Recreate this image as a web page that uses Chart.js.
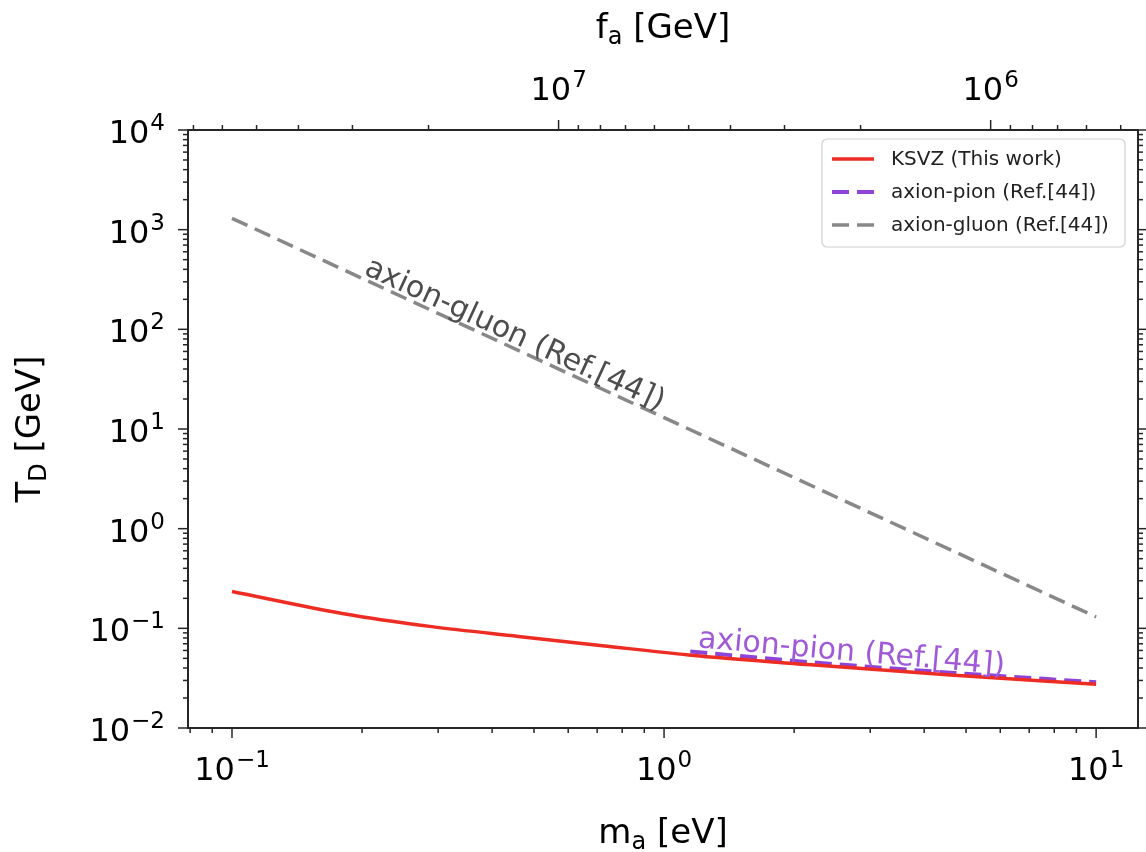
<!DOCTYPE html>
<html><head><meta charset="utf-8">
<script src="https://cdn.jsdelivr.net/npm/chart.js@4.4.1/dist/chart.umd.min.js"></script>
<style>html,body{margin:0;padding:0;background:#fff;}#wrap{width:1146px;height:852px;}</style>
</head><body><div id="wrap"><canvas id="c" width="1146" height="852"></canvas></div>
<script>
// ---------------- data ----------------
const ksvzMass  = [0.1, 0.18, 0.29, 0.46, 0.72, 1.14, 2.19, 4.6, 10];
const ksvzTD    = [0.234, 0.141, 0.104, 0.083, 0.067, 0.054, 0.043, 0.034, 0.0275];
const pionMass  = [1.15, 2.19, 4.6, 10];
const pionTD    = [0.0585, 0.0457, 0.0359, 0.0288];
const gluonMass = [0.1, 1, 10];
const gluonTD   = [1300, 13, 0.13];
const seriesLabels = ['KSVZ (This work)', 'axion-pion (Ref.[44])', 'axion-gluon (Ref.[44])'];
const massTickExps = [-1, 0, 1];          // bottom axis labels 10^n  (m_a [eV])
const faTickExps   = [7, 6];              // top axis labels 10^n     (f_a [GeV])
const tdTickExps   = [-2, -1, 0, 1, 2, 3, 4]; // left axis labels 10^n (T_D [GeV])
const FA_CONST = 5.7e6;                   // f_a[GeV] = 5.7e6 / m_a[eV]
const X_MIN = 0.0791, X_MAX = 12.5, Y_MIN = 1e-2, Y_MAX = 1e4;

// ---------------- styles ----------------
const FONT = '"DejaVu Sans", sans-serif';
const RED = 'rgb(237,45,36)', PURPLE = '#8e44d8', GRAY = '#888888';
const AXIS = '#262626';
const DASH = [17, 8];

const pts = (xs, ys) => xs.map((x, i) => ({x, y: ys[i]}));

const decor = {
  id: 'decor',
  afterDatasetsDraw(chart) {
    const ctx = chart.ctx;
    const ann = [
      {ds: 2, text: seriesLabels[2], px: 361, off: 4.5, color: '#4d4d4d'},
      {ds: 1, text: seriesLabels[1], px: 697, off: 5, color: '#a05ad8'}
    ];
    ann.forEach(a => {
      const el = chart.getDatasetMeta(a.ds).data;
      for (let i = 0; i < el.length - 1; i++) {
        const p = el[i], q = el[i + 1];
        if (a.px >= p.x && a.px <= q.x) {
          const y = p.y + (q.y - p.y) * (a.px - p.x) / (q.x - p.x);
          const ang = Math.atan2(q.y - p.y, q.x - p.x);
          ctx.save();
          ctx.translate(a.px, y);
          ctx.rotate(ang);
          ctx.font = '30px ' + FONT;
          ctx.fillStyle = a.color;
          ctx.textBaseline = 'alphabetic';
          ctx.textAlign = 'left';
          ctx.fillText(a.text, 0, -a.off);
          ctx.restore();
          break;
        }
      }
    });
  },
  afterDraw(chart) {
    const ctx = chart.ctx;
    const ca = chart.chartArea;
    const sx = chart.scales.x, sxt = chart.scales.xTop, sy = chart.scales.y;
    ctx.save();
    // frame
    ctx.strokeStyle = AXIS;
    ctx.lineWidth = 2;
    ctx.strokeRect(ca.left, ca.top, ca.right - ca.left, ca.bottom - ca.top);
    // ticks
    ctx.lineWidth = 1.5;
    const MAJ = 10, MIN = 5;
    function logVals(lo, hi) {
      const out = [];
      for (let e = Math.floor(Math.log10(lo)) - 1; e <= Math.ceil(Math.log10(hi)); e++) {
        for (let k = 1; k <= 9; k++) {
          const v = k * Math.pow(10, e);
          if (v >= lo * 0.9999 && v <= hi * 1.0001) out.push({v, major: k === 1});
        }
      }
      return out;
    }
    function line(x1, y1, x2, y2) { ctx.beginPath(); ctx.moveTo(x1, y1); ctx.lineTo(x2, y2); ctx.stroke(); }
    logVals(X_MIN, X_MAX).forEach(t => {
      const x = sx.getPixelForValue(t.v);
      line(x, ca.bottom, x, ca.bottom + (t.major ? MAJ : MIN));
    });
    logVals(FA_CONST / X_MAX, FA_CONST / X_MIN).forEach(t => {
      const x = sxt.getPixelForValue(t.v);
      line(x, ca.top, x, ca.top - (t.major ? MAJ : MIN));
    });
    logVals(Y_MIN, Y_MAX).forEach(t => {
      const y = sy.getPixelForValue(t.v);
      const L = t.major ? MAJ : MIN;
      line(ca.left, y, ca.left - L, y);
      line(ca.right, y, ca.right + L, y);
    });
    // tick labels 10^n
    function pow10(exp, x, y, align) {
      const es = exp < 0 ? '\u2212' + Math.abs(exp) : String(exp);
      ctx.font = '32px ' + FONT;
      const w1 = ctx.measureText('10').width;
      ctx.font = '23px ' + FONT;
      const w2 = ctx.measureText(es).width;
      const tot = w1 + 1 + w2;
      const left = align === 'right' ? x - tot : x - tot / 2;
      ctx.fillStyle = '#000';
      ctx.textAlign = 'left';
      ctx.textBaseline = 'alphabetic';
      ctx.font = '32px ' + FONT;
      ctx.fillText('10', left, y);
      ctx.font = '23px ' + FONT;
      ctx.fillText(es, left + w1 + 1, y - 13);
    }
    massTickExps.forEach(e => pow10(e, sx.getPixelForValue(Math.pow(10, e)), 780, 'center'));
    faTickExps.forEach(e => pow10(e, sxt.getPixelForValue(Math.pow(10, e)), 100, 'center'));
    tdTickExps.forEach(e => pow10(e, 165, sy.getPixelForValue(Math.pow(10, e)) + 13, 'right'));
    // axis titles with subscripts
    function subTitle(main, sub, rest, cx, cy, rot) {
      ctx.save();
      ctx.translate(cx, cy);
      if (rot) ctx.rotate(rot);
      ctx.fillStyle = '#000';
      ctx.textBaseline = 'alphabetic';
      ctx.textAlign = 'left';
      ctx.font = '34px ' + FONT;
      const w1 = ctx.measureText(main).width;
      const w3 = ctx.measureText(rest).width;
      ctx.font = '24px ' + FONT;
      const w2 = ctx.measureText(sub).width;
      const tot = w1 + w2 + w3;
      let x = -tot / 2;
      ctx.font = '34px ' + FONT;
      ctx.fillText(main, x, 0);
      x += w1;
      ctx.font = '24px ' + FONT;
      ctx.fillText(sub, x, 6);
      x += w2;
      ctx.font = '34px ' + FONT;
      ctx.fillText(rest, x, 0);
      ctx.restore();
    }
    const cxm = (ca.left + ca.right) / 2, cym = (ca.top + ca.bottom) / 2;
    subTitle('f', 'a', ' [GeV]', cxm, 38, 0);
    subTitle('m', 'a', ' [eV]', cxm, 843, 0);
    subTitle('T', 'D', ' [GeV]', 40, cym, -Math.PI / 2);
    // legend
    const lx = 822, ly = 139, lw = 303, lh = 108;
    ctx.beginPath();
    ctx.roundRect(lx, ly, lw, lh, 5);
    ctx.fillStyle = 'rgba(255,255,255,0.85)';
    ctx.fill();
    ctx.strokeStyle = '#d0d0d0';
    ctx.lineWidth = 1.2;
    ctx.stroke();
    const rows = [159, 192, 225];
    chart.data.datasets.forEach((d, i) => {
      ctx.strokeStyle = d.borderColor;
      ctx.lineWidth = d.borderWidth;
      ctx.setLineDash(d.borderDash || []);
      ctx.lineCap = 'butt';
      line(832, rows[i], 874, rows[i]);
      ctx.setLineDash([]);
      ctx.fillStyle = '#222';
      ctx.font = '20px ' + FONT;
      ctx.textBaseline = 'middle';
      ctx.textAlign = 'left';
      ctx.fillText(d.label, 891, rows[i] + 1);
    });
    ctx.restore();
  }
};

const noAxisDraw = {grid: {display: false, drawTicks: false}, border: {display: false}, ticks: {display: false}, bounds: 'data'};

new Chart(document.getElementById('c'), {
  type: 'line',
  data: {
    datasets: [
      {label: seriesLabels[0], data: pts(ksvzMass, ksvzTD), borderColor: RED, borderWidth: 3.5, pointRadius: 0, cubicInterpolationMode: 'monotone', xAxisID: 'x', yAxisID: 'y'},
      {label: seriesLabels[1], data: pts(pionMass, pionTD), borderColor: PURPLE, borderWidth: 4, borderDash: DASH, pointRadius: 0, cubicInterpolationMode: 'monotone', xAxisID: 'x', yAxisID: 'y'},
      {label: seriesLabels[2], data: pts(gluonMass, gluonTD), borderColor: GRAY, borderWidth: 3.5, borderDash: DASH, pointRadius: 0, tension: 0, xAxisID: 'x', yAxisID: 'y'}
    ]
  },
  options: {
    responsive: false,
    animation: false,
    devicePixelRatio: 1,
    layout: {padding: 0},
    plugins: {legend: {display: false}, tooltip: {enabled: false}, title: {display: false}},
    scales: {
      x: Object.assign({type: 'logarithmic', position: 'bottom', min: X_MIN, max: X_MAX,
        afterBuildTicks: s => { s.min = X_MIN; s.max = X_MAX; }, afterFit: s => { s.height = 124; }}, noAxisDraw),
      xTop: Object.assign({type: 'logarithmic', position: 'top', reverse: true, min: FA_CONST / X_MAX, max: FA_CONST / X_MIN,
        afterBuildTicks: s => { s.min = FA_CONST / X_MAX; s.max = FA_CONST / X_MIN; }, afterFit: s => { s.height = 130; }}, noAxisDraw),
      y: Object.assign({type: 'logarithmic', position: 'left', min: Y_MIN, max: Y_MAX,
        afterBuildTicks: s => { s.min = Y_MIN; s.max = Y_MAX; }, afterFit: s => { s.width = 188; }}, noAxisDraw),
      yRight: Object.assign({type: 'logarithmic', position: 'right', min: Y_MIN, max: Y_MAX,
        afterBuildTicks: s => { s.min = Y_MIN; s.max = Y_MAX; }, afterFit: s => { s.width = 8; }}, noAxisDraw)
    }
  },
  plugins: [decor]
});
</script>
</body></html>
